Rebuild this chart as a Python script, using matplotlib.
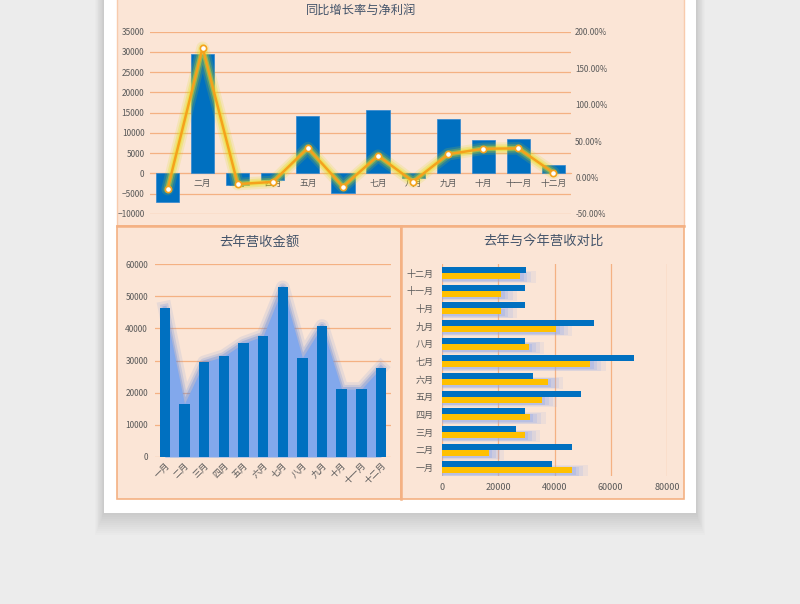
import numpy as np
import matplotlib
matplotlib.use("Agg")
import matplotlib.pyplot as plt
from matplotlib.patches import Rectangle

plt.rcParams["font.family"] = ["Noto Sans CJK SC", "DejaVu Sans"]

# 数据
months = ["一月", "二月", "三月", "四月", "五月", "六月",
          "七月", "八月", "九月", "十月", "十一月", "十二月"]
last_year = [46300, 16600, 29400, 31300, 35400, 37600,
             52700, 30900, 40700, 21100, 21100, 27800]
this_year = [39100, 46200, 26400, 29500, 49500, 32500,
             68400, 29500, 53900, 29500, 29500, 29700]
profit = [-7000, 29600, -2950, -1720, 14200, -4920,
          15650, -1230, 13400, 8350, 8600, 2050]
growth = [-0.16, 1.78, -0.09, -0.06, 0.405, -0.125,
          0.30, -0.055, 0.32, 0.395, 0.40, 0.065]

BLUE = "#0070c0"
YELLOW = "#ffc000"
ORANGE = "#f5a21c"
GRID = "#f4b183"
PEACH = "#fbe5d6"
TXT = "#595959"
TITLE = "#44546a"

W, H = 800, 604


def box(x0, y0, x1, y1):
    # 픽셀 좌표 -> figure 좌표
    return [x0 / W, 1 - y1 / H, (x1 - x0) / W, (y1 - y0) / H]


fig = plt.figure(figsize=(8, 6.04), dpi=100, facecolor="#ececec")

# 배경 (페이지, 그림자, 패널)
bg = fig.add_axes([0, 0, 1, 1])
bg.set_xlim(0, W)
bg.set_ylim(H, 0)
bg.axis("off")
for d in range(2, 24, 2):
    bg.add_patch(Rectangle((104 - d * 0.4, 0), 592 + d * 0.8, 513 + d,
                           facecolor="#000000", alpha=0.012, lw=0))
bg.add_patch(Rectangle((104, 0), 592, 513, facecolor="white", lw=0))
bg.add_patch(Rectangle((117, -2), 567, 228, facecolor=PEACH, edgecolor="#f8cbad", lw=1))
bg.add_patch(Rectangle((117, 226), 284, 273, facecolor=PEACH, edgecolor=GRID, lw=1.2))
bg.add_patch(Rectangle((401, 226), 283, 273, facecolor=PEACH, edgecolor=GRID, lw=1.2))
bg.plot([117, 684], [226, 226], color=GRID, lw=1.8)
bg.plot([401, 401], [226, 499], color=GRID, lw=1.8)

x = np.arange(len(months))

# ---- 同比增长率与净利润 ----
ax = fig.add_axes(box(150, 31.7, 571, 214))
ax.set_facecolor("none")
ax.bar(x, profit, width=0.66, color=BLUE, edgecolor="#2f86d0", lw=0.5, zorder=3)
ax.set_xlim(-0.5, 11.5)
ax.set_ylim(-10000, 35000)
ax.set_yticks(range(-10000, 35001, 5000))
ax.yaxis.grid(True, color=GRID, lw=0.9)
ax.set_axisbelow(True)
for s in ["top", "right", "left"]:
    ax.spines[s].set_visible(False)
ax.spines["bottom"].set_position(("data", 0))
ax.spines["bottom"].set_color(GRID)
ax.set_xticks(x)
ax.set_xticklabels(months)
ax.tick_params(axis="x", length=0, pad=4, labelsize=6.3, labelcolor=TXT)
ax.tick_params(axis="y", length=0, pad=4, labelsize=6, labelcolor=TXT)

ax2 = ax.twinx()
ax2.set_ylim(-0.5, 2.0)
ax2.set_yticks(np.arange(-0.5, 2.01, 0.5))
ax2.set_yticklabels(["{:.2f}%".format(v * 100) for v in np.arange(-0.5, 2.01, 0.5)])
ax2.tick_params(axis="y", length=0, pad=3, labelsize=5.8, labelcolor=TXT)
for s in ax2.spines.values():
    s.set_visible(False)
ax2.plot(x, growth, color="#d8d800", lw=9, alpha=0.15, solid_capstyle="round", zorder=4)
ax2.plot(x, growth, color="#e0e000", lw=6, alpha=0.25, solid_capstyle="round", zorder=4)
ax2.plot(x, growth, color="#f0e020", lw=3.5, alpha=0.45, solid_capstyle="round", zorder=4)
ax2.plot(x, growth, color=ORANGE, lw=1.8, marker="o", ms=4.5,
         mfc="white", mec=ORANGE, mew=1.2, zorder=5)
fig.text(361 / W, 1 - 10 / H, "同比增长率与净利润", ha="center", va="center",
         fontsize=8.8, color=TITLE)

# ---- 去年营收金额 ----
bx = fig.add_axes(box(155, 264, 390.8, 457))
bx.set_facecolor("none")
for lw, a in [(10, 0.12), (6, 0.2), (3, 0.3)]:
    bx.plot(x, last_year, color="#5b86dc", lw=lw, alpha=a, solid_joinstyle="round", zorder=1)
bx.fill_between(x, last_year, 0, color="#82a8ec", lw=0, zorder=2)
bx.bar(x, last_year, width=0.53, color=BLUE, zorder=3)
bx.set_xlim(-0.5, 11.5)
bx.set_ylim(0, 60000)
bx.set_yticks(range(0, 60001, 10000))
bx.yaxis.grid(True, color=GRID, lw=0.9)
bx.set_axisbelow(True)
for s in bx.spines.values():
    s.set_visible(False)
bx.set_xticks(x)
bx.set_xticklabels(months, rotation=45, ha="right", rotation_mode="anchor")
bx.tick_params(axis="x", length=0, pad=3, labelsize=6.3, labelcolor=TXT)
bx.tick_params(axis="y", length=0, pad=5, labelsize=6, labelcolor=TXT)
fig.text(259 / W, 1 - 242 / H, "去年营收金额", ha="center", va="center",
         fontsize=9.6, color=TITLE)

# ---- 去年与今年营收对比 ----
cx = fig.add_axes(box(442, 264.2, 667, 476.1))
cx.set_facecolor("none")
h = 0.34
# 노란 막대 주변의 파란 glow
for dw, dh, a in [(5500, 0.34, 0.12), (4000, 0.26, 0.16), (2500, 0.18, 0.22), (1200, 0.1, 0.3)]:
    cx.barh(x - h / 2 - 0.06, [v + dw for v in last_year], height=h + dh,
            color="#8ea8ee", alpha=a, lw=0, zorder=1)
cx.barh(x + h / 2, this_year, height=h, color=BLUE, zorder=3)
cx.barh(x - h / 2, last_year, height=h, color=YELLOW, zorder=3)
cx.set_ylim(-0.5, 11.5)
cx.set_xlim(0, 80000)
cx.set_xticks(range(0, 80001, 20000))
cx.xaxis.grid(True, color=GRID, lw=0.9)
cx.set_axisbelow(True)
for s in cx.spines.values():
    s.set_visible(False)
cx.set_yticks(x)
cx.set_yticklabels(months)
cx.tick_params(axis="y", length=0, pad=6, labelsize=6.5, labelcolor=TXT)
cx.tick_params(axis="x", length=0, pad=5, labelsize=6.5, labelcolor=TXT)
fig.text(543 / W, 1 - 241 / H, "去年与今年营收对比", ha="center", va="center",
         fontsize=9.6, color=TITLE)

fig.savefig("out.png", dpi=100, facecolor=fig.get_facecolor())
